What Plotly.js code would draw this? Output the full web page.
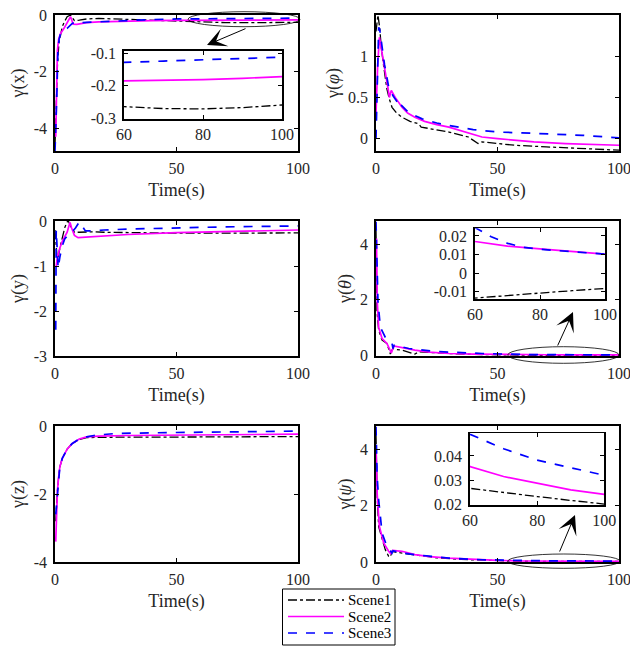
<!DOCTYPE html>
<html>
<head>
<meta charset="utf-8">
<script src="https://cdn.plot.ly/plotly-3.0.1.min.js"></script>
<style>html,body{margin:0;padding:0;background:#fff;}#chart{width:630px;height:646px;}</style>
</head>
<body>
<div id="chart"></div>
<script>
// ---------- data ----------
const seriesNames = ['Scene1', 'Scene2', 'Scene3'];

// Panel 1: gamma(x)
const p1_t1 = [0,0.5,1,1.6,2.2,3,4,5,6.4,7.2,8,10,13,18,25,35,45,55,60,70,80,90,100];
const p1_y1 = [-4.6,-3.2,-1.8,-1.0,-0.7,-0.41,-0.22,-0.06,0,-0.12,-0.2,-0.18,-0.14,-0.12,-0.14,-0.18,-0.22,-0.25,-0.264,-0.27,-0.271,-0.267,-0.259];
const p1_t2 = [0.3,0.6,1,1.5,2.3,3.7,5,5.8,6.4,7,7.5,9,11,13,18,25,32,40,50,60,70,80,90,100];
const p1_y2 = [-4.3,-2.5,-1.24,-0.85,-0.65,-0.47,-0.3,-0.15,-0.06,-0.2,-0.32,-0.33,-0.3,-0.27,-0.24,-0.22,-0.21,-0.2,-0.19,-0.185,-0.184,-0.181,-0.177,-0.172];
const p1_t3 = [0,0.4,0.7,1.2,1.7,2.3,3.5,5,6,7.1,8.5,10.5,13,18,25,32,40,50,60,70,80,90,100];
const p1_y3 = [-4.8,-4.0,-3.0,-1.24,-0.85,-0.65,-0.55,-0.47,-0.38,-0.3,-0.24,-0.27,-0.26,-0.24,-0.21,-0.18,-0.16,-0.14,-0.128,-0.124,-0.12,-0.116,-0.112];

// Panel 2: gamma(phi)
const p2_t1 = [0,0.8,1.5,2.2,3.2,4.5,5.5,6.6,8.5,10.7,14,17.5,18.6,22,30,38,42,43.6,50,57,70,85,100];
const p2_y1 = [1.3,1.5,1.35,1.1,0.87,0.6,0.48,0.38,0.31,0.26,0.21,0.18,0.14,0.12,0.08,0.02,-0.06,-0.04,-0.06,-0.08,-0.1,-0.12,-0.14];
const p2_t2 = [0,0.7,1.4,2.5,3.8,5,5.5,6.3,7.9,10.7,13,16,20,25,30,37,43.6,50,57,65,78,90,100];
const p2_y2 = [0.3,0.9,1.23,1.05,0.79,0.6,0.5,0.585,0.5,0.38,0.31,0.26,0.21,0.17,0.14,0.08,0.02,0,-0.02,-0.04,-0.06,-0.07,-0.08];
const p2_t3 = [0,0.5,1.1,1.5,2.5,3.5,5.2,7,9.3,10,10.6,13,16,19,25,30,40,50,60,71,85,100];
const p2_y3 = [0,0.7,1.35,1.33,1.11,0.9,0.63,0.52,0.42,0.37,0.4,0.33,0.28,0.24,0.19,0.16,0.11,0.08,0.07,0.06,0.04,0.01];

// Panel 3: gamma(y)
const p3_t1 = [0,0.5,1,2,3,4,5,5.5,6.5,8,10,15,20,30,50,70,100];
const p3_y1 = [-0.2,-0.5,-0.9,-0.6,-0.35,-0.15,-0.02,0,-0.12,-0.25,-0.25,-0.24,-0.25,-0.26,-0.27,-0.27,-0.265];
const p3_t2 = [0.5,1,2,3,4,5,5.8,6.2,6.8,8,9.5,12,20,30,50,70,100];
const p3_y2 = [-1.0,-0.8,-0.6,-0.45,-0.35,-0.25,-0.1,-0.03,-0.15,-0.32,-0.37,-0.36,-0.33,-0.3,-0.26,-0.23,-0.2];
const p3_t3 = [0,0.3,0.5,0.8,1.3,2,3,4,5.5,7,8.5,10,11,12.5,15,20,30,50,70,100];
const p3_y3 = [-2.4,-2.4,-0.2,-0.5,-1.05,-0.8,-0.55,-0.4,-0.3,-0.25,-0.15,-0.02,-0.1,-0.22,-0.22,-0.2,-0.18,-0.15,-0.13,-0.11];

// Panel 4: gamma(theta)
const p4_t1 = [0,0.4,1.1,2.5,4.5,5.9,6.9,8.5,10.7,13,16,17.6,22,30,40,50,60,70,80,90,100];
const p4_y1 = [4.5,1.6,0.9,0.54,0.42,0.04,0.24,0.2,0.18,0.12,0.04,0.12,0.09,0.06,0.03,0.01,-0.0135,-0.012,-0.0108,-0.0095,-0.0083];
const p4_t2 = [0.2,0.5,1.1,2.5,4.5,6.3,7.3,10.7,16,22,30,40,50,60,70,80,90,100];
const p4_y2 = [4.2,1.96,1.0,0.6,0.42,0.08,0.33,0.27,0.18,0.11,0.06,0.04,0.025,0.017,0.0145,0.013,0.0115,0.0102];
const p4_t3 = [0,0.8,1.8,3.8,6.6,7,7.5,13.5,23,30,43.7,50,60,65,70,75,80,90,100];
const p4_y3 = [4.8,1.96,1.0,0.65,0.42,0.24,0.36,0.24,0.15,0.11,0.06,0.04,0.0245,0.0195,0.016,0.0138,0.0128,0.0114,0.0102];

// Panel 5: gamma(z)
const p5_t1 = [0.3,0.6,1,1.5,2,3,4,5,7,10,13,18,25,35,50,70,100];
const p5_y1 = [-2.8,-2.3,-1.9,-1.5,-1.2,-0.95,-0.8,-0.68,-0.52,-0.4,-0.34,-0.33,-0.33,-0.33,-0.33,-0.32,-0.31];
const p5_t2 = [0.3,0.6,1,1.5,2,3,4,5,7,10,13,18,30,50,70,100];
const p5_y2 = [-3.4,-2.6,-1.9,-1.5,-1.2,-0.95,-0.8,-0.68,-0.52,-0.38,-0.32,-0.3,-0.28,-0.27,-0.26,-0.24];
const p5_t3 = [0.3,0.6,1,1.5,2,3,4,5,7,10,13,16,20,25,40,60,80,100];
const p5_y3 = [-2.6,-2.3,-1.9,-1.5,-1.2,-0.95,-0.8,-0.68,-0.52,-0.38,-0.32,-0.28,-0.25,-0.22,-0.2,-0.18,-0.16,-0.15];

// Panel 6: gamma(psi)
const p6_t1 = [0,0.5,1.1,2.5,3.8,5.2,5.9,6.6,8,12,18,25,35,45,60,70,80,90,100];
const p6_y1 = [4.5,2.3,1.26,0.79,0.44,0.2,0.18,0.38,0.35,0.3,0.22,0.15,0.09,0.06,0.0266,0.0248,0.0232,0.0216,0.0201];
const p6_t2 = [0,0.5,1.4,3.2,5.2,6,6.9,10.7,16,22,30,40,50,60,70,80,90,100];
const p6_y2 = [4.1,2.4,1.26,0.67,0.38,0.3,0.41,0.38,0.26,0.19,0.14,0.09,0.055,0.0356,0.0315,0.0287,0.026,0.0241];
const p6_t3 = [0,0.5,1.1,2.5,4.5,6.6,7,10.7,16,23,30,43.7,50,60,70,80,90,100];
const p6_y3 = [4.8,3.0,2.2,1.03,0.55,0.32,0.4,0.32,0.26,0.19,0.14,0.08,0.065,0.049,0.043,0.0383,0.035,0.032];

// tick labels
const xTickVals = [0, 50, 100];
const xTickText = ['0', '50', '100'];
const insetXTickVals = [60, 80, 100];
const insetXTickText = ['60', '80', '100'];
const p1TickVals = [-4, -2, 0];       const p1TickText = ['-4', '-2', '0'];
const p2TickVals = [0, 0.5, 1];       const p2TickText = ['0', '0.5', '1'];
const p3TickVals = [-3, -2, -1, 0];   const p3TickText = ['-3', '-2', '-1', '0'];
const p4TickVals = [0, 2, 4];         const p4TickText = ['0', '2', '4'];
const p5TickVals = [-4, -2, 0];       const p5TickText = ['-4', '-2', '0'];
const p6TickVals = [0, 2, 4];         const p6TickText = ['0', '2', '4'];
const in1TickVals = [-0.3, -0.2, -0.1];        const in1TickText = ['-0.3', '-0.2', '-0.1'];
const in4TickVals = [-0.01, 0, 0.01, 0.02];    const in4TickText = ['-0.01', '0', '0.01', '0.02'];
const in6TickVals = [0.02, 0.03, 0.04];        const in6TickText = ['0.02', '0.03', '0.04'];
const yTitles = ['γ(x)', 'γ(<i>φ</i>)', 'γ(y)', 'γ(<i>θ</i>)', 'γ(z)', 'γ(<i>ψ</i>)'];

// ---------- build ----------
const FONT = '"Liberation Serif", "Times New Roman", serif';
const TXT = '#262626';
const styles = [
  {color: '#000000', dash: 'dashdot', width: 1.3},
  {color: '#ff00ff', dash: 'solid', width: 1.7},
  {color: '#0000ff', dash: 'dash', width: 1.7}
];
const panels = [
  [[p1_t1,p1_y1],[p1_t2,p1_y2],[p1_t3,p1_y3]],
  [[p2_t1,p2_y1],[p2_t2,p2_y2],[p2_t3,p2_y3]],
  [[p3_t1,p3_y1],[p3_t2,p3_y2],[p3_t3,p3_y3]],
  [[p4_t1,p4_y1],[p4_t2,p4_y2],[p4_t3,p4_y3]],
  [[p5_t1,p5_y1],[p5_t2,p5_y2],[p5_t3,p5_y3]],
  [[p6_t1,p6_y1],[p6_t2,p6_y2],[p6_t3,p6_y3]]
];
const traces = [];
panels.forEach((p, i) => {
  const n = i + 1;
  p.forEach((s, k) => {
    traces.push({
      x: s[0], y: s[1], type: 'scatter', mode: 'lines',
      xaxis: 'x' + (n === 1 ? '' : n), yaxis: 'y' + (n === 1 ? '' : n),
      name: seriesNames[k], showlegend: false,
      line: Object.assign({}, styles[k]), hoverinfo: 'skip'
    });
  });
});
// insets: panel index -> axis number
const insets = [[0, 7], [3, 8], [5, 9]];
insets.forEach(([pi, an]) => {
  panels[pi].forEach((s, k) => {
    traces.push({
      x: s[0], y: s[1], type: 'scatter', mode: 'lines',
      xaxis: 'x' + an, yaxis: 'y' + an, showlegend: false,
      name: seriesNames[k], line: Object.assign({}, styles[k]), hoverinfo: 'skip'
    });
  });
});

const W = 630, H = 646;
const px = v => v / W;
const py = v => 1 - v / H;

function axisBase(extra) {
  return Object.assign({
    showline: true, mirror: 'ticks', linecolor: '#000', linewidth: 1.8,
    ticks: 'inside', ticklen: 4, tickwidth: 1, tickcolor: '#000',
    showgrid: false, zeroline: false, automargin: false, fixedrange: true,
    ticklabeloverflow: 'allow',
    tickfont: {family: FONT, size: 16, color: TXT}, tickmode: 'array'
  }, extra);
}

const cols = [[55, 298], [376, 619]];
const rows = [[15, 151], [221, 356], [426, 562]];
const yRanges = [[-4.8, 0], [-0.15, 1.5], [-3, 0], [-0.03, 4.83], [-4, 0], [0, 4.83]];
const yTV = [p1TickVals, p2TickVals, p3TickVals, p4TickVals, p5TickVals, p6TickVals];
const yTT = [p1TickText, p2TickText, p3TickText, p4TickText, p5TickText, p6TickText];

const layout = {
  width: W, height: H, margin: {l: 0, r: 0, t: 0, b: 0},
  paper_bgcolor: '#fff', plot_bgcolor: '#fff',
  font: {family: FONT, color: TXT},
  showlegend: false,
  shapes: [], annotations: []
};

for (let i = 0; i < 6; i++) {
  const n = i + 1, s = n === 1 ? '' : n;
  const c = cols[i % 2], r = rows[Math.floor(i / 2)];
  layout['xaxis' + s] = axisBase({
    domain: [px(c[0]), px(c[1])], range: [0, 100], anchor: 'y' + s,
    tickvals: xTickVals, ticktext: xTickText, ticklabelstandoff: 2,
    title: {text: 'Time(s)', font: {family: FONT, size: 18, color: TXT}, standoff: 7}
  });
  layout['yaxis' + s] = axisBase({
    domain: [py(r[1]), py(r[0])], range: yRanges[i], anchor: 'x' + s,
    tickvals: yTV[i], ticktext: yTT[i], ticklabelstandoff: 3,
    title: {text: yTitles[i], font: {family: FONT, size: 18, color: TXT}, standoff: 4}
  });
}

// inset axes
const insetBoxes = [
  {an: 7, x: [124, 282], y: [51, 119.3], yr: [-0.303, -0.093], tv: in1TickVals, tt: in1TickText},
  {an: 8, x: [475, 605], y: [228.3, 299], yr: [-0.014, 0.0241], tv: in4TickVals, tt: in4TickText},
  {an: 9, x: [470, 604.3], y: [433.3, 505], yr: [0.0197, 0.0494], tv: in6TickVals, tt: in6TickText}
];
insetBoxes.forEach(b => {
  layout['xaxis' + b.an] = axisBase({
    domain: [px(b.x[0]), px(b.x[1])], range: [60, 100], anchor: 'y' + b.an,
    tickvals: insetXTickVals, ticktext: insetXTickText, ticklabelstandoff: 0
  });
  layout['yaxis' + b.an] = axisBase({
    domain: [py(b.y[1]), py(b.y[0])], range: b.yr, anchor: 'x' + b.an,
    tickvals: b.tv, ticktext: b.tt, ticklabelstandoff: 3
  });
});

// ellipses marking the zoomed regions
[[188, 300, 11.7, 26.7], [507.7, 619, 346.7, 363.3], [507.7, 620, 554, 568.3]].forEach(e => {
  layout.shapes.push({
    type: 'circle', xref: 'paper', yref: 'paper',
    x0: px(e[0]), x1: px(e[1]), y0: py(e[3]), y1: py(e[2]),
    line: {color: '#000', width: 0.8}, layer: 'above'
  });
});
// arrows
[[207, 45, 40, -17], [573, 312, -16, 35], [575, 515, -16, 38]].forEach(a => {
  layout.annotations.push({
    xref: 'paper', yref: 'paper', x: px(a[0]), y: py(a[1]), text: '',
    showarrow: true, arrowhead: 3, arrowsize: 3.2, arrowwidth: 1,
    arrowcolor: '#000', ax: a[2], ay: a[3], standoff: 0
  });
});

// legend box (MATLAB style, compact)
layout.shapes.push({
  type: 'rect', xref: 'paper', yref: 'paper',
  x0: px(282.5), x1: px(395), y0: py(645), y1: py(589),
  line: {color: '#000', width: 1}, fillcolor: '#fff', layer: 'above'
});
const legendRows = [600, 616.5, 633];
seriesNames.forEach((name, k) => {
  const yy = py(legendRows[k]);
  layout.shapes.push({
    type: 'line', xref: 'paper', yref: 'paper',
    x0: px(288), x1: px(344), y0: yy, y1: yy,
    line: Object.assign({}, styles[k]), layer: 'above'
  });
  layout.annotations.push({
    xref: 'paper', yref: 'paper', x: px(346), y: yy, xanchor: 'left', yanchor: 'middle',
    text: name, showarrow: false, font: {family: FONT, size: 15, color: '#000'}
  });
});

Plotly.newPlot('chart', traces, layout, {staticPlot: true, displayModeBar: false});
</script>
</body>
</html>
